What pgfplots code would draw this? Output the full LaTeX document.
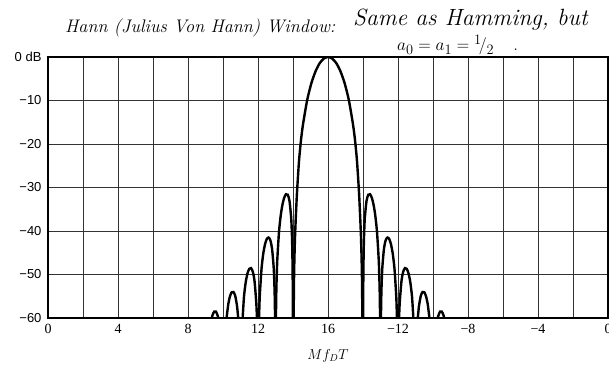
\documentclass[border=0pt]{standalone}
\usepackage{fontspec}
\usepackage{pgfplots}
\pgfplotsset{compat=1.18}
\newfontfamily\ysans{Liberation Sans}
\newfontfamily\xserif{Liberation Serif}
\pgfplotsset{lobe/.style={black, line width=2.4pt, smooth, tension=0.4, mark=none}}
\begin{document}
\begin{tikzpicture}
\begin{axis}[
  scale only axis, width=560pt, height=261pt,
  xmin=0, xmax=32, ymin=-60, ymax=0,
  xtick={0,4,...,32},
  xticklabels={0,4,8,12,16,−12,−8,−4,0},
  minor xtick={2,6,...,30},
  ytick={-60,-50,...,0},
  yticklabels={−60,−50,−40,−30,−20,−10,0 dB},
  grid=both,
  major grid style={black!80, line width=0.9pt},
  minor grid style={black!80, line width=0.9pt},
  major tick length=0pt, minor tick length=0pt,
  axis line style={black, line width=1.2pt},
  x tick label style={font=\xserif\fontsize{14}{14}\selectfont, yshift=-3pt},
  y tick label style={font=\ysans\fontsize{13}{13}\selectfont, xshift=-3pt},
  xlabel={$Mf_DT$},
  xlabel style={at={(axis description cs:0.5,-0.146)}, anchor=center, font=\fontsize{14}{14}\selectfont},
]
\coordinate (BL) at (rel axis cs:0,0);
% main lobe
\addplot[lobe] coordinates {(14.035,-60)(14.065,-49.23)(14.12,-40.81)(14.22,-31.76)(14.34,-24.10)(14.455,-19.15)(14.575,-15.40)(14.81,-9.89)(15.05,-6.02)(15.29,-3.27)(15.525,-1.42)(15.76,-0.35)(16,0)(16.24,-0.35)(16.475,-1.42)(16.71,-3.27)(16.95,-6.02)(17.19,-9.89)(17.425,-15.40)(17.545,-19.15)(17.66,-24.10)(17.78,-31.76)(17.88,-40.81)(17.935,-49.23)(17.965,-60)};
% sidelobe 1
\addplot[lobe] coordinates {(18.006,-60)(18.02,-49.86)(18.05,-42.40)(18.1,-37.24)(18.2,-33.10)(18.3,-31.67)(18.4,-31.54)(18.5,-32.31)(18.6,-33.89)(18.7,-36.38)(18.8,-40.21)(18.9,-46.79)(18.95,-53.18)(18.976,-60)};
\addplot[lobe] coordinates {(13.994,-60)(13.98,-49.86)(13.95,-42.40)(13.9,-37.24)(13.8,-33.10)(13.7,-31.67)(13.6,-31.54)(13.5,-32.31)(13.4,-33.89)(13.3,-36.38)(13.2,-40.21)(13.1,-46.79)(13.05,-53.18)(13.024,-60)};
% sidelobe 2
\addplot[lobe] coordinates {(19.024,-60)(19.05,-54.12)(19.1,-48.67)(19.2,-43.98)(19.3,-42.06)(19.4,-41.49)(19.5,-41.85)(19.6,-43.06)(19.7,-45.22)(19.8,-48.73)(19.9,-55.02)(19.94,-60)};
\addplot[lobe] coordinates {(12.976,-60)(12.95,-54.12)(12.9,-48.67)(12.8,-43.98)(12.7,-42.06)(12.6,-41.49)(12.5,-41.85)(12.4,-43.06)(12.3,-45.22)(12.2,-48.73)(12.1,-55.02)(12.06,-60)};
% sidelobe 3
\addplot[lobe] coordinates {(20.06,-60)(20.1,-56.38)(20.2,-51.45)(20.3,-49.31)(20.4,-48.53)(20.5,-48.70)(20.6,-49.73)(20.7,-51.71)(20.8,-55.05)(20.877,-60)};
\addplot[lobe] coordinates {(11.94,-60)(11.9,-56.38)(11.8,-51.45)(11.7,-49.31)(11.6,-48.53)(11.5,-48.70)(11.4,-49.73)(11.3,-51.71)(11.2,-55.05)(11.123,-60)};
% sidelobe 4
\addplot[lobe] coordinates {(21.13,-60)(21.15,-59.18)(21.2,-57.20)(21.3,-54.93)(21.4,-54.02)(21.5,-54.07)(21.6,-54.99)(21.7,-56.86)(21.795,-60)};
\addplot[lobe] coordinates {(10.87,-60)(10.85,-59.18)(10.8,-57.20)(10.7,-54.93)(10.6,-54.02)(10.5,-54.07)(10.4,-54.99)(10.3,-56.86)(10.205,-60)};
% sidelobe 5
\addplot[lobe] coordinates {(22.27,-60)(22.3,-59.52)(22.4,-58.54)(22.5,-58.51)(22.6,-59.35)(22.635,-60)};
\addplot[lobe] coordinates {(9.73,-60)(9.7,-59.52)(9.6,-58.54)(9.5,-58.51)(9.4,-59.35)(9.365,-60)};
\end{axis}
\node[anchor=base west, font=\itshape\fontsize{18.2}{18.2}\selectfont, inner sep=0pt] at ([shift={(17pt,285pt)}]BL) {Hann (Julius Von Hann) Window:};
\node[anchor=base west, font=\itshape\fontsize{23.5}{23.5}\selectfont, inner sep=0pt] at ([shift={(305pt,292pt)}]BL) {Same as Hamming, but};
\node[anchor=base west, font=\fontsize{19}{19}\selectfont, inner sep=0pt] at ([shift={(349pt,267pt)}]BL) {$a_0 = a_1 = {}^1\!/_2$\quad .};
\pgfresetboundingbox
\path ([shift={(-48pt,-54pt)}]BL) rectangle ++(609pt,372pt);
\end{tikzpicture}
\end{document}
